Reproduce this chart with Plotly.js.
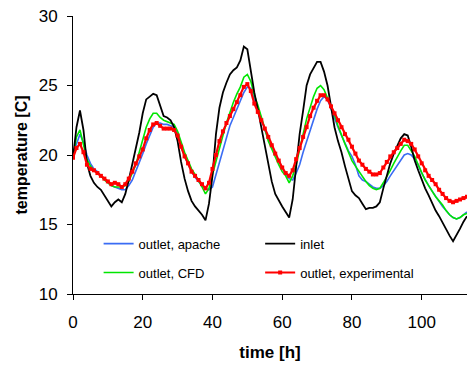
<!DOCTYPE html>
<html>
<head>
<meta charset="utf-8">
<script src="https://cdn.plot.ly/plotly-3.0.1.min.js"></script>
<style>html,body{margin:0;padding:0;background:#fff;}#chart{width:467px;height:365px;}</style>
</head>
<body>
<div id="chart"></div>
<script>
var hours = [0,1,2,3,4,5,6,7,8,9,10,11,12,13,14,15,16,17,18,19,20,21,22,23,24,25,26,27,28,29,30,31,32,33,34,35,36,37,38,39,40,41,42,43,44,45,46,47,48,49,50,51,52,53,54,55,56,57,58,59,60,61,62,63,64,65,66,67,68,69,70,71,72,73,74,75,76,77,78,79,80,81,82,83,84,85,86,87,88,89,90,91,92,93,94,95,96,97,98,99,100,101,102,103,104,105,106,107,108,109,110,111,112,113];

var apache = [19.8,20.8,21.5,20.9,20.0,19.4,19.0,18.8,18.5,18.3,18.0,17.8,17.7,17.6,17.5,17.5,17.8,18.2,18.8,19.4,20.1,20.8,21.4,22.0,22.3,22.3,22.2,22.2,22.1,22.0,21.6,20.6,19.9,19.3,18.8,18.4,18.1,17.8,17.6,17.5,17.7,18.6,19.5,20.4,21.4,22.1,22.7,23.3,23.9,24.5,24.9,24.8,24.0,23.4,22.6,21.8,21.2,20.6,20.1,19.6,19.1,18.6,18.3,18.2,18.7,19.3,20.2,21.0,21.8,22.6,23.3,23.9,24.2,24.0,23.3,22.6,22.0,21.4,20.8,20.3,19.9,19.3,18.5,18.2,18.1,17.9,17.7,17.6,17.6,17.8,18.1,18.5,18.9,19.3,19.7,20.0,20.1,20.0,19.7,19.3,18.7,18.2,17.8,17.4,17.0,16.6,16.3,16.0,15.7,15.5,15.4,15.5,15.7,15.9];

var inlet = [19.8,22.0,23.2,21.8,19.4,18.5,18.0,17.7,17.5,17.1,16.6,16.3,16.6,16.8,16.6,17.2,18.2,19.3,20.4,21.6,23.0,24.0,24.2,24.4,24.3,23.5,22.8,22.7,22.5,22.0,21.0,19.5,18.3,17.4,16.7,16.3,16.0,15.7,15.3,16.5,18.5,21.5,23.4,24.5,25.2,25.8,26.1,26.3,26.8,27.8,27.6,26.0,24.5,23.3,22.0,20.5,19.2,18.1,17.2,16.7,16.3,15.9,15.5,16.8,19.0,21.5,23.2,25.0,25.8,26.3,26.7,26.7,26.0,25.0,23.5,22.0,21.0,20.2,19.2,18.2,17.4,17.1,16.9,16.5,16.1,16.2,16.2,16.3,16.6,17.6,18.6,19.4,20.1,20.7,21.2,21.5,21.4,20.6,19.6,18.9,18.2,17.6,17.1,16.5,16.0,15.6,15.1,14.7,14.2,13.8,14.2,14.7,15.2,15.6];

var cfd = [19.8,21.3,21.8,20.8,19.7,19.2,18.9,18.7,18.5,18.2,18.0,17.8,17.7,17.7,17.7,17.8,18.1,18.7,19.3,20.2,21.1,22.0,22.6,23.0,23.0,22.7,22.5,22.4,22.3,22.2,21.7,20.9,20.2,19.6,19.0,18.6,18.2,17.7,17.2,17.6,18.6,19.6,20.6,21.4,22.3,23.1,23.8,24.4,24.9,25.6,25.8,25.3,24.3,23.6,22.8,21.9,21.0,20.4,19.9,19.3,18.8,18.5,18.0,18.5,19.3,20.3,21.5,22.6,23.4,24.2,24.8,25.0,24.7,24.1,23.5,22.9,22.1,21.4,20.8,20.2,19.6,19.2,18.8,18.4,18.1,17.8,17.6,17.5,17.6,18.0,18.4,18.9,19.4,19.9,20.3,20.7,20.7,20.3,19.9,19.3,18.7,18.2,17.8,17.4,17.0,16.7,16.4,16.0,15.7,15.5,15.4,15.5,15.7,15.8];

var experimental = [19.8,20.5,20.8,20.2,19.3,19.0,18.9,18.7,18.5,18.3,18.1,17.9,18.0,17.9,17.7,17.9,18.3,18.8,19.4,19.9,20.4,21.2,21.8,22.2,22.3,22.1,21.9,21.9,21.9,21.8,21.4,20.6,19.9,19.4,18.8,18.5,18.2,17.9,17.6,18.0,19.0,20.0,21.0,21.7,22.3,22.8,23.3,23.8,24.3,24.9,25.1,24.6,23.7,23.1,22.5,21.9,21.3,20.7,20.1,19.6,19.1,18.7,18.5,18.9,19.7,20.5,21.3,22.0,22.8,23.4,23.9,24.3,24.3,24.0,23.5,23.0,22.5,22.0,21.5,21.1,20.6,20.1,19.6,19.3,19.0,18.8,18.6,18.6,18.7,19.1,19.5,19.9,20.2,20.5,20.8,21.1,21.0,20.8,20.4,19.9,19.4,18.9,18.5,18.2,17.9,17.5,17.2,16.9,16.7,16.6,16.7,16.8,16.9,17.0];

var xTicks = [0,20,40,60,80,100];
var yTicks = [10,15,20,25,30];

var FONT = '"Liberation Sans", Arial, sans-serif';

var traces = [
  {x: hours, y: apache, name: 'outlet, apache', mode: 'lines', line: {color: '#3a6cf4', width: 1.6}, legend: 'legend', legendgroup: 'a'},
  {x: hours, y: cfd, name: 'outlet, CFD', mode: 'lines', line: {color: '#00e600', width: 1.6}, legend: 'legend', legendgroup: 'c'},
  {x: hours, y: inlet, name: 'inlet', mode: 'lines', line: {color: '#000000', width: 1.8}, legend: 'legend2', legendgroup: 'i'},
  {x: hours, y: experimental, name: 'outlet, experimental', mode: 'lines+markers', line: {color: '#ff0000', width: 2.2}, marker: {symbol: 'square', size: 4, color: '#ff0000'}, legend: 'legend2', legendgroup: 'e'}
];

var legendCommon = {
  font: {family: FONT, size: 13, color: '#000'},
  bgcolor: 'rgba(0,0,0,0)',
  borderwidth: 0,
  tracegroupgap: 9,
  itemwidth: 30,
  yanchor: 'top',
  xanchor: 'left'
};

var layout = {
  width: 467, height: 365,
  margin: {l: 73, r: 0, t: 16, b: 71, pad: 0},
  paper_bgcolor: '#fff', plot_bgcolor: '#fff',
  font: {family: FONT, color: '#000'},
  showlegend: true,
  legend: Object.assign({x: 0.065, y: 0.235}, legendCommon),
  legend2: Object.assign({x: 0.475, y: 0.235}, legendCommon),
  xaxis: {
    range: [0, 113], tickvals: xTicks, ticktext: xTicks.map(String),
    showgrid: false, zeroline: false, showline: true, linecolor: '#000', linewidth: 1,
    ticks: 'outside', ticklen: 5, tickcolor: '#000', tickwidth: 1,
    tickfont: {family: FONT, size: 17, color: '#000'}, ticklabelstandoff: 8,
    title: {text: '<b>time [h]</b>', font: {family: FONT, size: 17, color: '#000'}, standoff: 14}
  },
  yaxis: {
    range: [10, 30], tickvals: yTicks, ticktext: yTicks.map(String),
    showgrid: false, zeroline: false, showline: true, linecolor: '#000', linewidth: 1,
    ticks: 'outside', ticklen: 5, tickcolor: '#000', tickwidth: 1,
    tickfont: {family: FONT, size: 17, color: '#000'}, ticklabelstandoff: 6,
    title: {text: '<b>temperature [C]</b>', font: {family: FONT, size: 16, color: '#000'}, standoff: 7}
  }
};

Plotly.newPlot('chart', traces, layout, {displayModeBar: false, staticPlot: true});
</script>
</body>
</html>
